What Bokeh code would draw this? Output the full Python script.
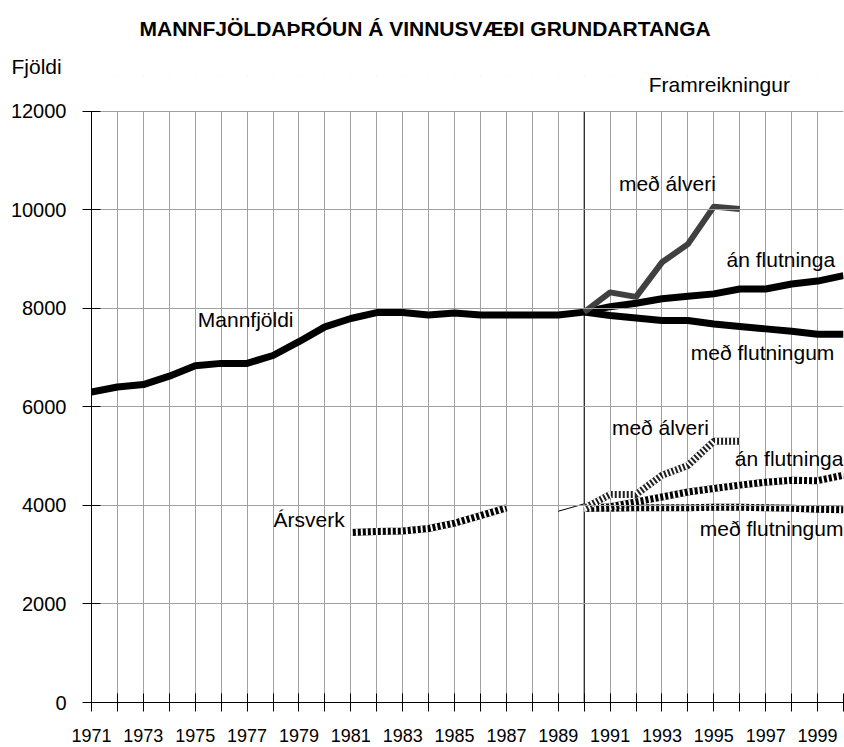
from bokeh.plotting import figure
from bokeh.models import FixedTicker, Label, Range1d, Title, BoxAnnotation
from bokeh.embed import file_html
from bokeh.resources import INLINE

# ---- data ----
years_hist = list(range(1971, 1991))
mannfjoldi = [6300, 6400, 6450, 6620, 6830, 6880, 6880, 7040, 7320, 7620,
              7790, 7910, 7910, 7860, 7900, 7860, 7860, 7860, 7860, 7920]

years_proj = list(range(1990, 2001))
years_alver = list(range(1990, 1997))
med_alveri = [7920, 8320, 8230, 8930, 9300, 10060, 10010]
an_flutninga = [7920, 8030, 8100, 8190, 8240, 8290, 8390, 8390, 8490, 8550, 8660]
med_flutningum = [7920, 7850, 7800, 7750, 7750, 7680, 7630, 7580, 7530, 7470, 7470]

years_ars = list(range(1981, 1988))
arsverk = [3450, 3470, 3480, 3530, 3640, 3790, 3950]
years_ars_link = [1989, 1990]
arsverk_link = [3880, 4030]
ars_med_alveri = [3940, 4220, 4220, 4610, 4810, 5300, 5300]
ars_an_flutninga = [3940, 3970, 4070, 4170, 4270, 4340, 4410, 4470, 4510, 4500, 4610]
ars_med_flutningum = [3940, 3940, 3950, 3950, 3950, 3960, 3960, 3950, 3940, 3920, 3910]

x_major = list(range(1971, 2000, 2))
x_minor = list(range(1972, 2001, 2))
y_ticks = [0, 2000, 4000, 6000, 8000, 10000, 12000]

FONT = "Liberation Sans"
GRID = "#a0a0a0"

p = figure(width=844, height=747, output_backend="svg", toolbar_location=None,
           x_range=Range1d(1971, 2000), y_range=Range1d(0, 12700),
           min_border_left=91, min_border_right=1, min_border_top=76,
           min_border_bottom=45)
p.outline_line_color = None
p.background_fill_color = "white"
p.border_fill_color = "white"

# titles (side panel, above the frame)
p.title.text = "MANNFJÖLDAÞRÓUN Á VINNUSVÆÐI GRUNDARTANGA"
p.title.align = "left"
p.title.offset = 48
p.title.text_font = FONT
p.title.text_font_size = "21px"
p.title.text_font_style = "bold"
p.title.text_color = "black"
p.title.vertical_align = "top"
p.title.standoff = 23
p.add_layout(Title(text="Fjöldi", align="left", offset=-80, standoff=-2,
                   vertical_align="bottom", text_font=FONT, text_font_size="21px",
                   text_font_style="normal", text_color="black"), "above")

# axes
p.xaxis.ticker = FixedTicker(ticks=x_major, minor_ticks=x_minor)
p.yaxis.ticker = FixedTicker(ticks=y_ticks)
p.yaxis.bounds = (y_ticks[0], y_ticks[-1])
for ax in (p.xaxis, p.yaxis):
    ax.axis_line_color = "black"
    ax.major_tick_line_color = "black"
    ax.major_tick_in = 9
    ax.major_tick_out = 9
    ax.major_label_text_font = FONT
    ax.major_label_text_color = "black"
p.xaxis.minor_tick_line_color = "black"
p.xaxis.minor_tick_in = 9
p.xaxis.minor_tick_out = 9
p.yaxis.minor_tick_line_color = None
p.xaxis.major_label_text_font_size = "18px"
p.yaxis.major_label_text_font_size = "20px"
p.xaxis.major_label_standoff = 17
p.yaxis.major_label_standoff = 16

# grid (vertical lines stop at the top tick)
p.xgrid.grid_line_color = GRID
p.xgrid.minor_grid_line_color = GRID
p.ygrid.grid_line_color = GRID
p.ygrid.level = "glyph"
p.add_layout(BoxAnnotation(bottom=y_ticks[-1], fill_color="white", fill_alpha=1.0,
                           line_color=None, level="underlay"))

# projection divider
p.segment(x0=[years_proj[0]], y0=[y_ticks[0]], x1=[years_proj[0]], y1=[y_ticks[-1]],
          line_color="black", line_width=1)

# population lines
p.line(years_hist, mannfjoldi, line_color="black", line_width=7, line_join="round")
p.line(years_proj, an_flutninga, line_color="black", line_width=7, line_join="round")
p.line(years_proj, med_flutningum, line_color="black", line_width=7, line_join="round")
p.line(years_alver, med_alveri, line_color="#404040", line_width=6, line_join="round")

# work-year lines (striped)
def striped(xs, ys, dash="2 3", base="black"):
    p.line(xs, ys, line_color=base, line_width=7)
    p.line(xs, ys, line_color="white", line_width=7, line_dash=dash)

striped(years_ars, arsverk, "2 3")
p.line(years_ars_link, arsverk_link, line_color="black", line_width=1)
striped(years_proj, ars_med_flutningum, "2 3")
striped(years_proj, ars_an_flutninga, "2 3")
striped(years_alver, ars_med_alveri, "2 2", base="#202020")

# texts
def lab(x, y, t, size="21px", align="left"):
    p.add_layout(Label(x=x, y=y, text=t, text_font=FONT, text_font_size=size,
                       text_align=align, text_baseline="middle",
                       text_color="black"))

lab(1992.49, 12530, "Framreikningur")
lab(1975.1, 7770, "Mannfjöldi")
lab(1991.34, 10520, "með álveri")
lab(1995.49, 8990, "án flutninga")
lab(1994.11, 7100, "með flutningum")
lab(1991.07, 5580, "með álveri")
lab(1995.81, 4950, "án flutninga")
lab(1994.46, 3530, "með flutningum")
lab(1978.02, 3720, "Ársverk")

open("out.html", "w").write(file_html(p, INLINE))
